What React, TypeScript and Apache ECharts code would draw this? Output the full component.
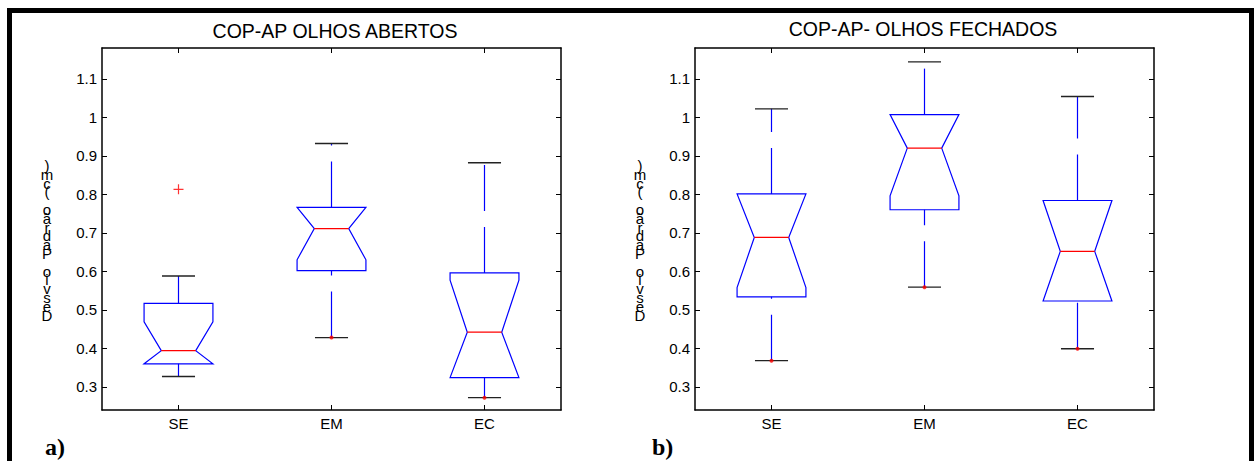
import React, { useEffect, useRef } from 'react';
import * as echarts from 'echarts';

const categories = ['SE', 'EM', 'EC'];
const yTickValues = [0.3, 0.4, 0.5, 0.6, 0.7, 0.8, 0.9, 1.0, 1.1];
const yMin = 0.24;
const yMax = 1.18;
const yAxisName = 'Desvio Padrão (cm)';

// Panel a) — olhos abertos
const titleA = 'COP-AP OLHOS ABERTOS';
const lowerWhiskerA = [0.327, 0.428, 0.272];
const q1A = [0.36, 0.602, 0.324];
const notchLowA = [0.36, 0.63, 0.324];
const medianA = [0.394, 0.711, 0.442];
const notchHighA = [0.469, 0.766, 0.577];
const q3A = [0.517, 0.766, 0.596];
const upperWhiskerA = [0.588, 0.932, 0.882];
const redDotsA: [string, number][] = [['EM', 0.428], ['EC', 0.272]];
const outliersA: [string, number][] = [['SE', 0.813]];

// Panel b) — olhos fechados
const titleB = 'COP-AP- OLHOS FECHADOS';
const lowerWhiskerB = [0.368, 0.559, 0.399];
const q1B = [0.534, 0.76, 0.523];
const notchLowB = [0.558, 0.796, 0.523];
const medianB = [0.688, 0.92, 0.652];
const notchHighB = [0.801, 1.007, 0.784];
const q3B = [0.801, 1.007, 0.784];
const upperWhiskerB = [1.022, 1.144, 1.054];
const redDotsB: [string, number][] = [['SE', 0.368], ['EM', 0.559], ['EC', 0.399]];
const outliersB: [string, number][] = [];

const FONT = '"Liberation Sans", Arial, sans-serif';

function buildBoxes(lw: number[], q1: number[], nlo: number[], med: number[], nhi: number[], q3: number[], uw: number[]) {
  return categories.map((_, i) => [i, lw[i], q1[i], nlo[i], med[i], nhi[i], q3[i], uw[i]]);
}

const renderNotchBox = (params: any, api: any) => {
  const c = api.value(0);
  const lw = api.value(1), q1 = api.value(2), nlo = api.value(3), med = api.value(4);
  const nhi = api.value(5), q3 = api.value(6), uw = api.value(7);
  const band = api.size([1, 0])[0];
  const hw = band * 0.225;
  const nw = hw * 0.5;
  const cw = hw * 0.48;
  const p = (dx: number, v: number) => {
    const pt = api.coord([c, v]);
    return [pt[0] + dx, pt[1]];
  };
  const blue = '#0000ff';
  const dash = [46, 16];
  const line = (a: number[], b: number[], stroke: string, lineWidth: number, lineDash?: number[]) => ({
    type: 'line',
    shape: { x1: a[0], y1: a[1], x2: b[0], y2: b[1] },
    style: { stroke, lineWidth, lineDash: lineDash || null, fill: 'none' },
  });
  return {
    type: 'group',
    children: [
      line(p(0, q3), p(0, uw), blue, 1.2, dash),
      line(p(0, lw), p(0, q1), blue, 1.2, dash),
      line(p(-cw, uw), p(cw, uw), '#222', 1.3),
      line(p(-cw, lw), p(cw, lw), '#222', 1.3),
      {
        type: 'polygon',
        shape: {
          points: [
            p(-hw, q1), p(-hw, nlo), p(-nw, med), p(-hw, nhi), p(-hw, q3),
            p(hw, q3), p(hw, nhi), p(nw, med), p(hw, nlo), p(hw, q1),
          ],
        },
        style: { fill: 'none', stroke: blue, lineWidth: 1.2 },
      },
      line(p(-nw, med), p(nw, med), '#ff0000', 1.2),
    ],
  };
};

const xAxisFor = (gridIndex: number, position: 'top' | 'bottom') => ({
  gridIndex,
  type: 'category',
  data: categories,
  position,
  boundaryGap: true,
  axisLine: { show: true, onZero: false, lineStyle: { color: '#000', width: 1.5 } },
  axisTick: { show: true, inside: true, alignWithLabel: true, length: 5, lineStyle: { color: '#000', width: 1 } },
  axisLabel: {
    show: position === 'bottom',
    color: '#000',
    fontSize: 15,
    fontFamily: FONT,
    margin: 6,
  },
  splitLine: { show: false },
});

const yAxisFor = (gridIndex: number, position: 'left' | 'right') => ({
  gridIndex,
  type: 'value',
  min: yMin,
  max: yMax,
  position,
  axisLine: { show: true, onZero: false, lineStyle: { color: '#000', width: 1.5 } },
  axisTick: { show: true, inside: true, length: 5, customValues: yTickValues, lineStyle: { color: '#000', width: 1 } },
  axisLabel: {
    show: position === 'left',
    customValues: yTickValues,
    formatter: (v: number) => String(+v.toFixed(1)),
    color: '#000',
    fontSize: 15,
    fontFamily: FONT,
    margin: 5,
  },
  splitLine: { show: false },
});

const plusSymbol = 'path://M0,4.4H10V5.6H0Z M4.4,0H5.6V10H4.4Z';

const stackedLabel = yAxisName.split('').reverse().join('\n');

export default function App() {
  const ref = useRef<HTMLDivElement>(null);
  useEffect(() => {
    if (!ref.current) return;
    const chart = echarts.init(ref.current, null, { renderer: 'svg' });
    const boxesA = buildBoxes(lowerWhiskerA, q1A, notchLowA, medianA, notchHighA, q3A, upperWhiskerA);
    const boxesB = buildBoxes(lowerWhiskerB, q1B, notchLowB, medianB, notchHighB, q3B, upperWhiskerB);
    const option: any = {
      animation: false,
      backgroundColor: '#fff',
      grid: [
        { left: 102, top: 48, width: 459, height: 362 },
        { left: 695, top: 48, width: 459, height: 362 },
      ],
      xAxis: [xAxisFor(0, 'bottom'), xAxisFor(0, 'top'), xAxisFor(1, 'bottom'), xAxisFor(1, 'top')],
      yAxis: [yAxisFor(0, 'left'), yAxisFor(0, 'right'), yAxisFor(1, 'left'), yAxisFor(1, 'right')],
      series: [
        {
          type: 'custom', name: titleA, xAxisIndex: 0, yAxisIndex: 0,
          renderItem: renderNotchBox, data: boxesA,
          encode: { x: 0, y: [1, 2, 3, 4, 5, 6, 7] }, silent: true,
        },
        {
          type: 'custom', name: titleB, xAxisIndex: 2, yAxisIndex: 2,
          renderItem: renderNotchBox, data: boxesB,
          encode: { x: 0, y: [1, 2, 3, 4, 5, 6, 7] }, silent: true,
        },
        {
          type: 'scatter', xAxisIndex: 0, yAxisIndex: 0, data: redDotsA,
          symbol: 'circle', symbolSize: 4, itemStyle: { color: '#ff0000' }, silent: true,
        },
        {
          type: 'scatter', xAxisIndex: 2, yAxisIndex: 2, data: redDotsB,
          symbol: 'circle', symbolSize: 4, itemStyle: { color: '#ff0000' }, silent: true,
        },
        {
          type: 'scatter', xAxisIndex: 0, yAxisIndex: 0, data: outliersA,
          symbol: plusSymbol, symbolSize: 10, itemStyle: { color: '#ff0000' }, silent: true,
        },
        {
          type: 'scatter', xAxisIndex: 2, yAxisIndex: 2, data: outliersB,
          symbol: plusSymbol, symbolSize: 10, itemStyle: { color: '#ff0000' }, silent: true,
        },
      ],
      graphic: [
        { type: 'rect', shape: { x: 7, y: 8, width: 1247, height: 5 }, style: { fill: '#000' } },
        { type: 'rect', shape: { x: 7, y: 8, width: 5, height: 453 }, style: { fill: '#000' } },
        { type: 'rect', shape: { x: 1249, y: 8, width: 5, height: 453 }, style: { fill: '#000' } },
        {
          type: 'text', x: 335, y: 31,
          style: { text: titleA, fill: '#000', font: `19.5px ${FONT}`, align: 'center', verticalAlign: 'middle' },
        },
        {
          type: 'text', x: 923, y: 28.5,
          style: { text: titleB, fill: '#000', font: `19.5px ${FONT}`, align: 'center', verticalAlign: 'middle' },
        },
        {
          type: 'text', x: 47, y: 161,
          style: { text: stackedLabel, fill: '#000', font: `15px ${FONT}`, lineHeight: 8.8, align: 'center', verticalAlign: 'top' },
        },
        {
          type: 'text', x: 640, y: 161,
          style: { text: stackedLabel, fill: '#000', font: `15px ${FONT}`, lineHeight: 8.8, align: 'center', verticalAlign: 'top' },
        },
        {
          type: 'text', x: 45, y: 459,
          style: { text: 'a)', fill: '#000', font: `bold 24px "Liberation Serif", "Times New Roman", serif`, align: 'left', verticalAlign: 'bottom' },
        },
        {
          type: 'text', x: 652, y: 459,
          style: { text: 'b)', fill: '#000', font: `bold 24px "Liberation Serif", "Times New Roman", serif`, align: 'left', verticalAlign: 'bottom' },
        },
      ],
    };
    chart.setOption(option);
    return () => chart.dispose();
  }, []);
  return (
    <div
      ref={ref}
      style={{ position: 'absolute', left: 0, top: 0, width: 1254, height: 461, background: '#fff' }}
    />
  );
}
